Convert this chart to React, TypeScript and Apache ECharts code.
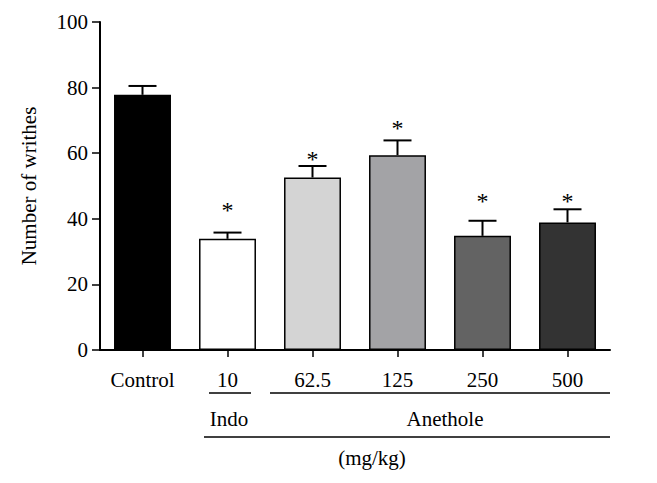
import React, { useEffect, useRef } from "react";
import * as echarts from "echarts";

const categories = ["Control", "10", "62.5", "125", "250", "500"];
const means = [77.8, 33.9, 52.6, 59.4, 34.8, 38.9];
const sems = [2.7, 1.9, 3.5, 4.5, 4.6, 4.0];
const starPos: (number | null)[] = [null, 44.2, 59.8, 69.3, 47.0, 47.0];
const barColors = ["#000000", "#ffffff", "#d4d4d4", "#a3a3a6", "#636363", "#333333"];
const yTicks = [0, 20, 40, 60, 80, 100];

const FONT = "'Liberation Serif', 'DejaVu Serif', serif";

export default function App() {
  const ref = useRef<HTMLDivElement>(null);
  useEffect(() => {
    if (!ref.current) return;
    const chart = echarts.init(ref.current, null, { renderer: "svg" });
    const option: any = {
      animation: false,
      backgroundColor: "#ffffff",
      grid: { left: 100, right: 47, top: 22, bottom: 133 },
      xAxis: {
        type: "category",
        data: categories,
        boundaryGap: true,
        axisLine: { lineStyle: { color: "#000", width: 2 } },
        axisTick: { show: true, alignWithLabel: true, length: 7, lineStyle: { color: "#000", width: 1.5 } },
        axisLabel: { color: "#000", fontFamily: FONT, fontSize: 21, margin: 19 },
      },
      yAxis: {
        type: "value",
        min: yTicks[0],
        max: yTicks[yTicks.length - 1],
        interval: 20,
        name: "Number of writhes",
        nameLocation: "middle",
        nameGap: 61,
        nameTextStyle: { color: "#000", fontFamily: FONT, fontSize: 21 },
        axisLine: { show: true, lineStyle: { color: "#000", width: 2 } },
        axisTick: { show: true, length: 8, lineStyle: { color: "#000", width: 1.5 } },
        axisLabel: { color: "#000", fontFamily: FONT, fontSize: 21, margin: 12 },
        splitLine: { show: false },
      },
      series: [
        {
          type: "bar",
          barWidth: "67%",
          data: means.map((v, i) => ({
            value: v,
            itemStyle: { color: barColors[i], borderColor: "#000", borderWidth: 1.5 },
          })),
          z: 2,
        },
        {
          type: "custom",
          z: 3,
          data: means.map((v, i) => [i, v, sems[i]]),
          renderItem: (params: any, api: any) => {
            const x = api.value(0);
            const v = api.value(1);
            const e = api.value(2);
            const p0 = api.coord([x, v]);
            const p1 = api.coord([x, v + e]);
            return {
              type: "group",
              children: [
                { type: "line", shape: { x1: p0[0], y1: p0[1], x2: p1[0], y2: p1[1] }, style: { stroke: "#000", lineWidth: 2 } },
                { type: "line", shape: { x1: p1[0] - 14, y1: p1[1], x2: p1[0] + 14, y2: p1[1] }, style: { stroke: "#000", lineWidth: 2 } },
              ],
            };
          },
        },
        {
          type: "custom",
          z: 4,
          data: starPos.map((v, i) => [i, v === null ? NaN : v]),
          renderItem: (params: any, api: any) => {
            const v = api.value(1);
            if (isNaN(v)) return null;
            const p = api.coord([api.value(0), v]);
            return {
              type: "text",
              x: p[0],
              y: p[1] + 5,
              style: { text: "*", fontFamily: FONT, fontSize: 24, fill: "#000", align: "center", verticalAlign: "middle" },
            };
          },
        },
      ],
      graphic: [
        { type: "line", shape: { x1: 209, y1: 393, x2: 251, y2: 393 }, style: { stroke: "#000", lineWidth: 1.5 } },
        { type: "line", shape: { x1: 270, y1: 393, x2: 610, y2: 393 }, style: { stroke: "#000", lineWidth: 1.5 } },
        { type: "line", shape: { x1: 204, y1: 437, x2: 610, y2: 437 }, style: { stroke: "#000", lineWidth: 1.5 } },
        { type: "text", x: 229, y: 419, style: { text: "Indo", fontFamily: FONT, fontSize: 21, fill: "#000", align: "center", verticalAlign: "middle" } },
        { type: "text", x: 445, y: 419, style: { text: "Anethole", fontFamily: FONT, fontSize: 21, fill: "#000", align: "center", verticalAlign: "middle" } },
        { type: "text", x: 372, y: 458, style: { text: "(mg/kg)", fontFamily: FONT, fontSize: 21, fill: "#000", align: "center", verticalAlign: "middle" } },
      ],
    };
    chart.setOption(option);
    return () => chart.dispose();
  }, []);
  return <div ref={ref} style={{ width: 657, height: 483, position: "absolute", left: 0, top: 0 }} />;
}
